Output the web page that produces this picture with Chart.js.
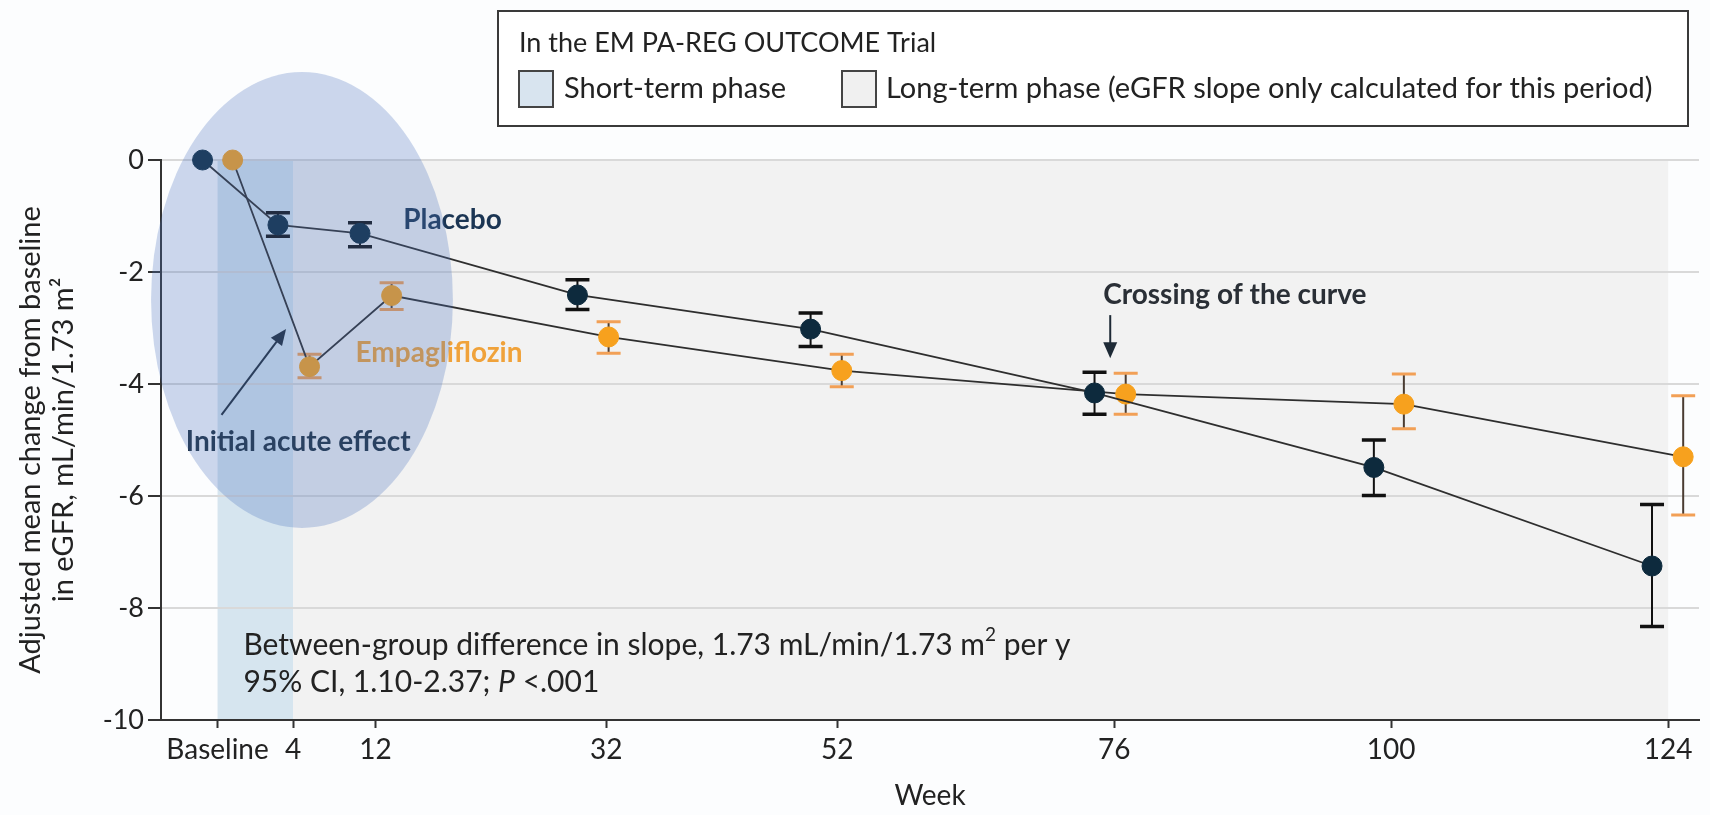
<!DOCTYPE html>
<html>
<head>
<meta charset="utf-8">
<script src="https://cdn.jsdelivr.net/npm/chart.js@4.4.1/dist/chart.umd.min.js"></script>
<style>
  html, body { margin: 0; padding: 0; background: #fcfdfe; }
</style>
</head>
<body>
<canvas id="myChart" width="1710" height="815"></canvas>
<script>
// x axis: weeks (0 = baseline)
const weekTicks = [0, 4, 12, 32, 52, 76, 100, 124];
const weekLabels = ['Baseline', '4', '12', '32', '52', '76', '100', '124'];
const yTicks = [0, -2, -4, -6, -8, -10];

// placebo, drawn a bit left of each visit
const placeboX = [-1.3, 3.2, 10.5, 29.5, 49.7, 74.3, 98.5, 122.6];
const placeboMean = [0, -1.16, -1.31, -2.41, -3.02, -4.16, -5.49, -7.25];
const placeboLow = [null, -1.36, -1.55, -2.67, -3.33, -4.54, -5.99, -8.33];
const placeboHigh = [null, -0.94, -1.12, -2.14, -2.73, -3.79, -5.00, -6.15];

// empagliflozin, drawn a bit right of each visit
const empaX = [0.8, 5.6, 13.4, 32.2, 52.4, 77.0, 101.1, 125.3];
const empaMean = [0, -3.69, -2.42, -3.16, -3.76, -4.18, -4.36, -5.30];
const empaLow = [null, -3.89, -2.67, -3.45, -4.05, -4.54, -4.80, -6.34];
const empaHigh = [null, -3.47, -2.19, -2.89, -3.47, -3.81, -3.82, -4.21];

// phases in weeks
const shortTerm = [0, 4];
const longTerm = [4, 124];

const FONT = 'Lato, "Open Sans", sans-serif';

// the printed axis gives the first weeks more room than the later ones
const bendWeeks = [0, 4, 12];
const bendAt = [-1.68, 4.86, 12];

function stretchWeek(w) {
  if (w <= bendWeeks[0]) return bendAt[0] + (w - bendWeeks[0]);
  if (w >= bendWeeks[2]) return bendAt[2] + (w - bendWeeks[2]);
  const k = w < bendWeeks[1] ? 0 : 1;
  return bendAt[k] + (w - bendWeeks[k]) * (bendAt[k + 1] - bendAt[k]) / (bendWeeks[k + 1] - bendWeeks[k]);
}

function shrinkWeek(d) {
  if (d <= bendAt[0]) return bendWeeks[0] + (d - bendAt[0]);
  if (d >= bendAt[2]) return bendWeeks[2] + (d - bendAt[2]);
  const k = d < bendAt[1] ? 0 : 1;
  return bendWeeks[k] + (d - bendAt[k]) * (bendWeeks[k + 1] - bendWeeks[k]) / (bendAt[k + 1] - bendAt[k]);
}

class WeekScale extends Chart.LinearScale {
  getPixelForValue(value) {
    return super.getPixelForValue(stretchWeek(value));
  }
  getValueForPixel(pixel) {
    return shrinkWeek(super.getValueForPixel(pixel));
  }
}
WeekScale.id = 'week';
WeekScale.defaults = Chart.LinearScale.defaults;
Chart.register(WeekScale);

function txt(ctx, text, x, y, size, weight, color) {
  ctx.font = weight + ' ' + size + 'px ' + FONT;
  ctx.fillStyle = color;
  ctx.textAlign = 'left';
  ctx.textBaseline = 'middle';
  ctx.fillText(text, x, y);
  return ctx.measureText(text).width;
}

function arrow(ctx, x1, y1, x2, y2) {
  const a = Math.atan2(y2 - y1, x2 - x1);
  ctx.strokeStyle = '#1e2a36';
  ctx.fillStyle = '#1e2a36';
  ctx.lineWidth = 2;
  ctx.beginPath();
  ctx.moveTo(x1, y1);
  ctx.lineTo(x2 - 10 * Math.cos(a), y2 - 10 * Math.sin(a));
  ctx.stroke();
  ctx.beginPath();
  ctx.moveTo(x2, y2);
  ctx.lineTo(x2 - 16 * Math.cos(a) + 7 * Math.sin(a), y2 - 16 * Math.sin(a) - 7 * Math.cos(a));
  ctx.lineTo(x2 - 16 * Math.cos(a) - 7 * Math.sin(a), y2 - 16 * Math.sin(a) + 7 * Math.cos(a));
  ctx.closePath();
  ctx.fill();
}

// shaded phases, under the grid
const phases = {
  id: 'phases',
  beforeDraw(chart) {
    const {ctx, chartArea, scales: {x}} = chart;
    const h = chartArea.bottom - chartArea.top;
    ctx.save();
    let a = x.getPixelForValue(longTerm[0]), b = x.getPixelForValue(longTerm[1]);
    ctx.fillStyle = '#f2f2f2';
    ctx.fillRect(a, chartArea.top, b - a, h);
    a = x.getPixelForValue(shortTerm[0]);
    b = x.getPixelForValue(shortTerm[1]);
    ctx.fillStyle = '#d6e5ef';
    ctx.fillRect(a, chartArea.top, b - a, h);
    ctx.restore();
  }
};

// 95% CI bars
const errorBars = {
  id: 'errorBars',
  beforeDatasetsDraw(chart) {
    const {ctx, scales: {x, y}} = chart;
    const sets = [
      {xs: placeboX, lo: placeboLow, hi: placeboHigh, stem: '#111', cap: '#111', capW: 3.5},
      {xs: empaX, lo: empaLow, hi: empaHigh, stem: '#4a3c32', cap: '#f2a056', capW: 3}
    ];
    ctx.save();
    sets.forEach(s => {
      s.xs.forEach((xv, i) => {
        if (s.lo[i] === null) return;
        const px = x.getPixelForValue(xv);
        const top = y.getPixelForValue(s.hi[i]);
        const bot = y.getPixelForValue(s.lo[i]);
        ctx.strokeStyle = s.stem;
        ctx.lineWidth = 2;
        ctx.beginPath();
        ctx.moveTo(px, top);
        ctx.lineTo(px, bot);
        ctx.stroke();
        ctx.strokeStyle = s.cap;
        ctx.lineWidth = s.capW;
        ctx.beginPath();
        ctx.moveTo(px - 12, top); ctx.lineTo(px + 12, top);
        ctx.moveTo(px - 12, bot); ctx.lineTo(px + 12, bot);
        ctx.stroke();
      });
    });
    ctx.restore();
  }
};

// labels, arrows, the ellipse and the legend box
const notes = {
  id: 'notes',
  afterDatasetsDraw(chart) {
    const {ctx, scales: {x, y}} = chart;
    const X = v => x.getPixelForValue(v), Y = v => y.getPixelForValue(v);
    ctx.save();
    txt(ctx, 'Placebo', X(14.4), Y(-1.07), 28, 'bold', '#1b3553');
    txt(ctx, 'Empagliflozin', X(10.07), Y(-3.45), 28, 'bold', '#f0a23a');
    txt(ctx, 'Initial acute effect', X(-2.75), Y(-5.04), 28, 'bold', '#1d2e3e');
    txt(ctx, 'Crossing of the curve', X(75.05), Y(-2.41), 28, 'bold', '#2a2f36');
    arrow(ctx, X(0.21), Y(-4.55), X(3.63), Y(-3.02));
    arrow(ctx, X(75.66), Y(-2.77), X(75.66), Y(-3.54));

    // between-group text
    const lx = X(1.37);
    let w = txt(ctx, 'Between-group difference in slope, 1.73 mL/min/1.73 m', lx, Y(-8.66), 30, 'normal', '#222');
    w += txt(ctx, '2', lx + w, Y(-8.66) - 10, 19, 'normal', '#222');
    txt(ctx, ' per y', lx + w, Y(-8.66), 30, 'normal', '#222');
    w = txt(ctx, '95% CI, 1.10-2.37; ', lx, Y(-9.32), 30, 'normal', '#222');
    w += txt(ctx, 'P', lx + w, Y(-9.32), 30, 'italic', '#222');
    txt(ctx, ' <.001', lx + w, Y(-9.32), 30, 'normal', '#222');

    // initial acute effect ellipse, laid over everything
    const left = X(-5.76), right = X(18.71);
    ctx.fillStyle = 'rgba(75, 115, 190, 0.28)';
    ctx.beginPath();
    ctx.ellipse((left + right) / 2, Y(-2.5), (right - left) / 2, Y(-2.5 - 4.07) - Y(-2.5), 0, 0, Math.PI * 2);
    ctx.fill();
    ctx.restore();
  },
  afterDraw(chart) {
    const ctx = chart.ctx;
    ctx.save();
    ctx.fillStyle = '#ffffff';
    ctx.fillRect(498, 11, 1190, 115);
    ctx.strokeStyle = '#3a3a3a';
    ctx.lineWidth = 2;
    ctx.strokeRect(498, 11, 1190, 115);
    txt(ctx, 'In the EM PA-REG OUTCOME Trial', 519, 43, 27, 'normal', '#222');
    ctx.lineWidth = 2;
    ctx.strokeStyle = '#444';
    ctx.fillStyle = '#d8e4ef';
    ctx.fillRect(519, 71, 34, 36);
    ctx.strokeRect(519, 71, 34, 36);
    txt(ctx, 'Short-term phase', 564, 89, 29, 'normal', '#222');
    ctx.fillStyle = '#f0f0f0';
    ctx.fillRect(842, 71, 34, 36);
    ctx.strokeRect(842, 71, 34, 36);
    txt(ctx, 'Long-term phase (eGFR slope only calculated for this period)', 886, 89, 29, 'normal', '#222');
    ctx.restore();
  }
};

new Chart(document.getElementById('myChart'), {
  type: 'scatter',
  data: {
    datasets: [
      {
        label: 'Placebo',
        data: placeboX.map((v, i) => ({x: v, y: placeboMean[i]})),
        showLine: true,
        borderColor: '#2e2e2e',
        borderWidth: 1.8,
        pointRadius: 10,
        pointBackgroundColor: '#0d2a3d',
        pointBorderColor: '#0d2a3d',
        pointBorderWidth: 1,
        clip: false
      },
      {
        label: 'Empagliflozin',
        data: empaX.map((v, i) => ({x: v, y: empaMean[i]})),
        showLine: true,
        borderColor: '#2e2e2e',
        borderWidth: 1.8,
        pointRadius: 10,
        pointBackgroundColor: '#f7a11e',
        pointBorderColor: '#f7a11e',
        pointBorderWidth: 1,
        clip: false
      }
    ]
  },
  options: {
    responsive: false,
    animation: false,
    events: [],
    layout: {padding: {top: 160, right: 0, left: 0, bottom: 0}},
    plugins: {legend: {display: false}, tooltip: {enabled: false}},
    scales: {
      x: {
        type: 'week',
        min: -6.58,
        max: 126.67,
        afterBuildTicks: s => { s.ticks = weekTicks.map(v => ({value: v})); },
        afterFit: s => { s.height = 95; },
        ticks: {
          callback: (v, i) => weekLabels[i],
          font: {family: FONT, size: 28},
          color: '#222',
          padding: 5,
          maxRotation: 0,
          autoSkip: false
        },
        grid: {drawOnChartArea: false, drawTicks: true, tickLength: 8, tickColor: '#333', tickWidth: 2},
        border: {color: '#333', width: 2},
        title: {display: true, text: 'Week', font: {family: FONT, size: 28}, color: '#222', padding: {top: 0, bottom: 2}}
      },
      y: {
        min: -10,
        max: 0,
        afterBuildTicks: s => { s.ticks = yTicks.map(v => ({value: v})); },
        afterFit: s => { s.width = 161; },
        ticks: {
          callback: v => String(v),
          font: {family: FONT, size: 27},
          color: '#222',
          padding: 4
        },
        grid: {color: '#d9d9d9', lineWidth: 2, tickColor: '#333', tickLength: 13, tickWidth: 2},
        border: {color: '#333', width: 2},
        title: {
          display: true,
          text: ['Adjusted mean change from baseline', 'in eGFR, mL/min/1.73 m\u00b2'],
          font: {family: FONT, size: 29, lineHeight: 1.15},
          color: '#222',
          padding: {top: 14, bottom: 0}
        }
      }
    }
  },
  plugins: [phases, errorBars, notes]
});
</script>
</body>
</html>
